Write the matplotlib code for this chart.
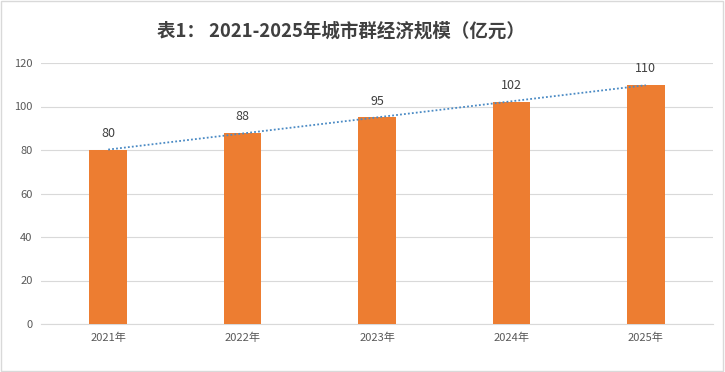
import numpy as np
import matplotlib.pyplot as plt
from matplotlib.patches import Rectangle

plt.rcParams['font.family'] = ['Noto Sans CJK SC', 'DejaVu Sans']

# data
years = ["2021年", "2022年", "2023年", "2024年", "2025年"]
values = [80, 88, 95, 102, 110]

BAR_COLOR = "#ED7D31"
TEXT_COLOR = "#595959"

fig = plt.figure(figsize=(7.25, 3.72), dpi=100)
ax = fig.add_axes([41 / 725, 48 / 372, 672 / 725, 261 / 372])

x = np.arange(len(years))
ax.bar(x, values, width=0.28, color=BAR_COLOR, zorder=3)

# linear trend line
k, b = np.polyfit(x, values, 1)
ax.plot(x, k * x + b, linestyle=(0, (1, 1.2)), color="#4A8AC4", linewidth=1.3, zorder=4)

for xi, v in zip(x, values):
    ax.text(xi, v + 4.5, str(v), ha="center", va="bottom", fontsize=9, color="#404040")

ax.set_xlim(-0.5, len(years) - 0.5)
ax.set_ylim(0, 120)
ax.set_yticks(range(0, 121, 20))
ax.set_xticks(x)
ax.set_xticklabels(years)
ax.tick_params(axis="both", length=0, labelsize=8, labelcolor=TEXT_COLOR)
ax.tick_params(axis="x", pad=6)
ax.tick_params(axis="y", pad=6)

ax.grid(axis="y", color="#D9D9D9", linewidth=0.8, zorder=0)
for s in ["top", "right", "left"]:
    ax.spines[s].set_visible(False)
ax.spines["bottom"].set_color("#D9D9D9")

fig.text(341 / 725, 1 - 31 / 372, "表1： 2021-2025年城市群经济规模（亿元）",
         ha="center", va="center", fontsize=13.3, fontweight="bold", color="#404040")

fig.patches.append(Rectangle((0.002, 0.004), 0.995, 0.993, transform=fig.transFigure,
                             fill=False, edgecolor="#D9D9D9", linewidth=1))

fig.savefig("out.png", dpi=100, facecolor="white")
